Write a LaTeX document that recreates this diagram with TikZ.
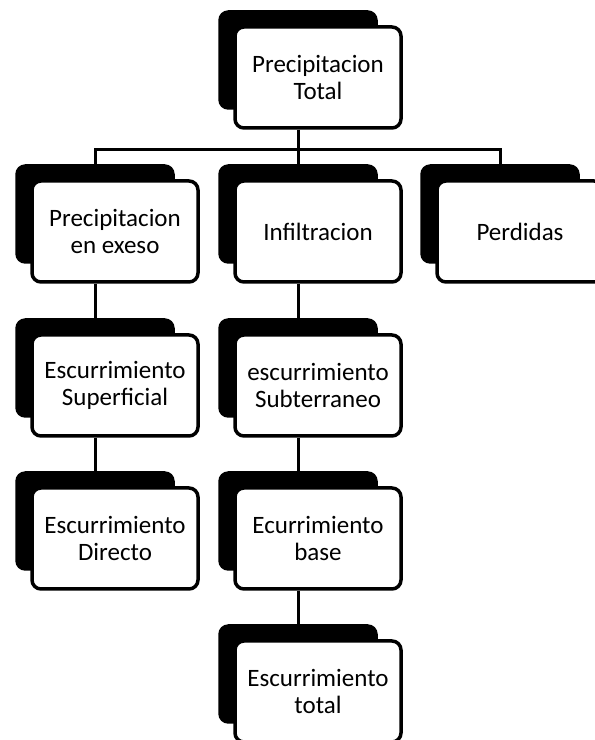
\documentclass[tikz,border=0pt]{standalone}
\usepackage{fontspec}
\setmainfont{Carlito}
\usepackage{tikz}
\usetikzlibrary{
  calc,
  backgrounds,
}
\definecolor{ink}{HTML}{000000}
\definecolor{card}{HTML}{FFFFFF}
\tikzset{
  stage/.style={
    draw=ink,
    fill=card,
    line width=3.5pt,
    rounded corners=9pt,
    minimum width=166pt,
    minimum height=101pt,
    align=center,
    inner sep=2pt,
    font=\fontsize{25}{27}\selectfont,
    text=ink,
  },
  shade/.style={fill=ink, rounded corners=10pt},
  conn/.style={draw=ink, line width=3pt},
}

\begin{document}
\begin{tikzpicture}[x=1pt,y=1pt]
  \useasboundingbox (0,0) rectangle (595,740);

  % top
  \node[stage] (total) at (318,662.5) {Precipitacion\\Total};

  % row 2
  \node[stage] (exceso) at (115,508.5) {Precipitacion\\en exeso};
  \node[stage] (infil) at (318,508.5) {Infiltracion};
  \node[stage] (perd) at (520,508.5) {Perdidas};

  % row 3
  \node[stage] (superf) at (115,354.5) {Escurrimiento\\Superficial};
  \node[stage] (subter) at (318,354.5) {escurrimiento\\Subterraneo};

  % row 4
  \node[stage] (directo) at (115,201.5) {Escurrimiento\\Directo};
  \node[stage] (base) at (318,201.5) {Ecurrimiento\\base};

  % row 5
  \node[stage] (esctot) at (318,48.5) {Escurrimiento\\total};

  \begin{scope}[on background layer]
    % shadows
    \foreach \n in {total,exceso,infil,perd,superf,subter,directo,base,esctot}
      \fill[shade] ([shift={(-15,15)}]\n.north west) rectangle ([shift={(-25,20)}]\n.south east);

    % bus under the top box
    \draw[conn] ([xshift=-20pt]total.south) -- ++(0,-20) coordinate (bus);
    \draw[conn] ([xshift=-20pt]exceso.north) |- (bus) -| ([xshift=-20pt]perd.north);
    \draw[conn] (bus) -- ([xshift=-20pt]infil.north);

    % columns
    \draw[conn] ([xshift=-20pt]exceso.south) -- ([xshift=-20pt]superf.north);
    \draw[conn] ([xshift=-20pt]superf.south) -- ([xshift=-20pt]directo.north);
    \draw[conn] ([xshift=-20pt]infil.south) -- ([xshift=-20pt]subter.north);
    \draw[conn] ([xshift=-20pt]subter.south) -- ([xshift=-20pt]base.north);
    \draw[conn] ([xshift=-20pt]base.south) -- ([xshift=-20pt]esctot.north);
  \end{scope}
\end{tikzpicture}
\end{document}
